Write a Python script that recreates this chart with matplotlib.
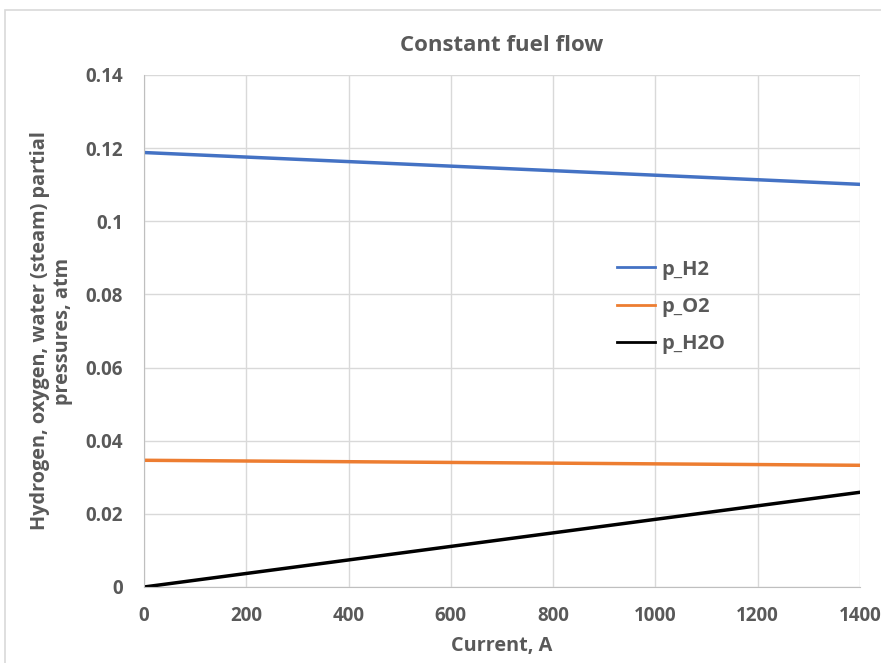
import matplotlib.pyplot as plt
from matplotlib.patches import Rectangle

# Data
current = [0, 200, 400, 600, 800, 1000, 1200, 1400]
p_h2 = [0.1188, 0.11756, 0.11632, 0.11508, 0.11384, 0.1126, 0.11136, 0.1101]
p_o2 = [0.03465, 0.03445, 0.03426, 0.03406, 0.03387, 0.03367, 0.03348, 0.03328]
p_h2o = [0.0, 0.0037, 0.0074, 0.0111, 0.0148, 0.0185, 0.0222, 0.0259]

x_ticks = [0, 200, 400, 600, 800, 1000, 1200, 1400]
y_ticks = [0, 0.02, 0.04, 0.06, 0.08, 0.1, 0.12, 0.14]
y_tick_labels = ["0", "0.02", "0.04", "0.06", "0.08", "0.1", "0.12", "0.14"]

plt.rcParams['font.family'] = ['Open Sans', 'DejaVu Sans']
text_color = '#595959'

fig = plt.figure(figsize=(8.81, 6.63), dpi=100)
fig.patches.append(Rectangle((5 / 881, -0.01), 1.0, 1 - 10 / 663 + 0.01,
                             transform=fig.transFigure, fill=False,
                             edgecolor='#d9d9d9', linewidth=1.2))

ax = fig.add_axes([144 / 881, 76 / 663, 716 / 881, 512 / 663])

ax.plot(current, p_h2, color='#4472c4', linewidth=2.5, label='p_H2')
ax.plot(current, p_o2, color='#ed7d31', linewidth=2.5, label='p_O2')
ax.plot(current, p_h2o, color='black', linewidth=2.5, label='p_H2O')

ax.set_xlim(0, 1400)
ax.set_ylim(0, 0.14)
ax.set_xticks(x_ticks)
ax.set_yticks(y_ticks)
ax.set_yticklabels(y_tick_labels)
ax.grid(True, color='#d9d9d9', linewidth=1)
ax.set_axisbelow(True)
for side in ['top', 'right']:
    ax.spines[side].set_visible(False)
for side in ['left', 'bottom']:
    ax.spines[side].set_color('#bfbfbf')
ax.tick_params(axis='y', length=0, pad=15, labelsize=13.5, labelcolor=text_color)
ax.tick_params(axis='x', length=0, pad=14, labelsize=13.5, labelcolor=text_color)
for lbl in ax.get_xticklabels() + ax.get_yticklabels():
    lbl.set_fontweight('bold')

ax.set_title('Constant fuel flow', fontsize=16, fontweight='bold',
             color=text_color, pad=17)
ax.set_xlabel('Current, A', fontsize=14.3, fontweight='bold',
              color=text_color, labelpad=7)
ax.set_ylabel('Hydrogen, oxygen, water (steam) partial\npressures, atm',
              fontsize=14.3, fontweight='bold', color=text_color, labelpad=9)

leg = ax.legend(loc='upper left', bbox_to_anchor=(0.635, 0.675), frameon=False,
                fontsize=14.5, handlelength=1.9, handletextpad=0.3,
                labelspacing=0.85)
for t in leg.get_texts():
    t.set_color(text_color)
    t.set_fontweight('bold')
for h in leg.get_lines():
    h.set_linewidth(2)

fig.savefig('out.png', dpi=100)
